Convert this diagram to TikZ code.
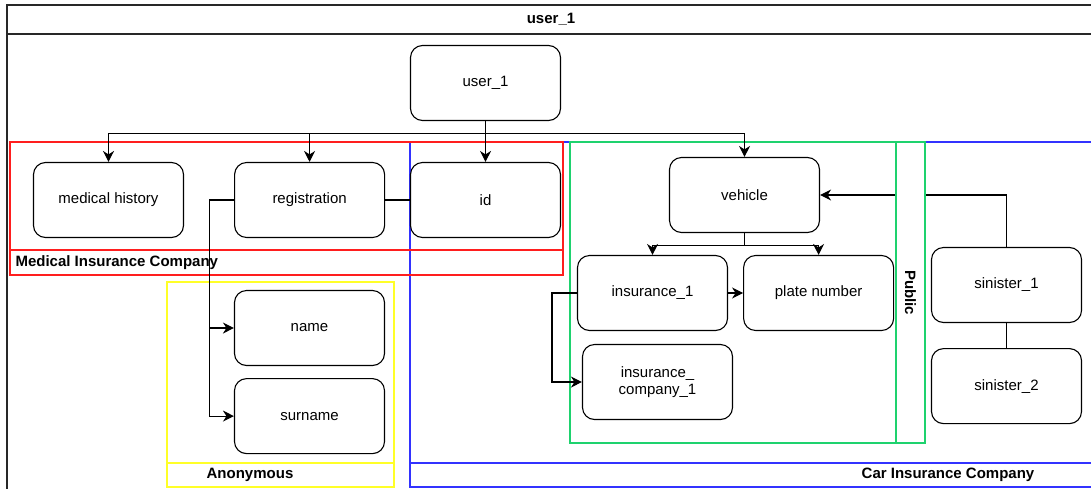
\documentclass[tikz,border=0pt]{standalone}
\usepackage{fontspec}
\setmainfont{Liberation Sans}
\usetikzlibrary{arrows.meta,positioning}
\definecolor{lanered}{RGB}{255,30,30}
\definecolor{laneblue}{RGB}{50,50,255}
\definecolor{lanegreen}{RGB}{30,210,110}
\definecolor{laneyellow}{RGB}{255,255,40}
\definecolor{poolgray}{RGB}{40,40,40}

\begin{document}
\begin{tikzpicture}[
    x=1pt, y=-1pt,
    node distance=25pt and 50pt,
    entity/.style={rectangle, draw=black, fill=white, rounded corners=12pt, line width=1.1pt, minimum width=150pt, minimum height=75pt, align=center, font=\fontsize{15}{17}\selectfont},
    arrow/.style={-{Stealth[length=11pt, width=11pt, inset=3.5pt]}, line width=1.1pt},
    link/.style={line width=1.1pt},
    lane/.style={line width=1.4pt},
    title/.style={font=\fontsize{15}{17}\selectfont\bfseries}
]
\useasboundingbox (0,0) rectangle (1091,488);
\clip (0,0) rectangle (1091,488);

% Pool
\draw[line width=1.1pt, draw=poolgray] (7,5) rectangle (1096,34);
\draw[line width=1.1pt, draw=poolgray] (7,34) rectangle (1096,500);
\node[title] (pooltitle) at (551,19) {user\_1};

% Lanes
\draw[lane, draw=laneblue] (410,142) rectangle (1100,463);
\draw[lane, draw=laneblue] (410,463) rectangle (1100,487);
\node[title] (carlabel) at (948,475) {Car Insurance Company};

\draw[lane, draw=lanered] (10,142) rectangle (563,250);
\draw[lane, draw=lanered] (10,250) rectangle (563,275);
\node[title, anchor=west] (medlabel) at (12,262.5) {Medical Insurance Company};

\draw[lane, draw=laneyellow] (167,282) rectangle (394,463);
\draw[lane, draw=laneyellow] (167,463) rectangle (394,487);
\node[title] (anonlabel) at (250,475) {Anonymous};

\draw[lane, draw=lanegreen] (570,142) rectangle (896,443);

% Entities
\node[entity] (user) at (485.5,83) {user\_1};
\node[entity] (medhist) at (108.5,200) {medical history};
\node[entity, right=50pt of medhist] (registration) {registration};
\node[entity] (id) at (485.5,200) {id};
\node[entity] (name) at (309.5,328) {name};
\node[entity, below=12pt of name] (surname) {surname};

\node[entity] (vehicle) at (744.5,195) {vehicle};
\node[entity] (ins) at (652.5,293) {insurance\_1};
\node[entity, right=15pt of ins] (plate) {plate number};
\node[entity] (inscomp) at (657.5,382) {insurance\_\\company\_1};
\node[entity] (sin1) at (1006.5,285) {sinister\_1};
\node[entity, below=25pt of sin1] (sin2) {sinister\_2};

% Arrows
\draw[arrow] (user.south) -- ++(0,12) -| (medhist.north);
\draw[arrow] (user.south) -- ++(0,12) -| (registration.north);
\draw[arrow] (user.south) -- (id.north);
\draw[arrow] (user.south) -- ++(0,12) -| (vehicle.north);
\draw[link] (registration) -- (id);
\draw[arrow] (registration.west) -- ++(-25,0) |- (name.west);
\draw[arrow] (registration.west) -- ++(-25,0) |- (surname.west);

\draw[arrow] (vehicle.south) -- ++(0,12) -| (ins.north);
\draw[arrow] (vehicle.south) -- ++(0,12) -| (plate.north);
\draw[arrow] (ins) -- (plate);
\draw[arrow] (ins.west) -- ++(-25,0) |- (inscomp.west);
\draw[arrow] (sin1.north) |- (vehicle.east);
\draw[link] (sin1) -- (sin2);

% Public strip
\node[draw=lanegreen, lane, fill=white, rotate=-90, minimum width=301pt, minimum height=29pt, inner sep=0pt, title] (public) at (910.5,292.5) {Public};

\end{tikzpicture}
\end{document}
